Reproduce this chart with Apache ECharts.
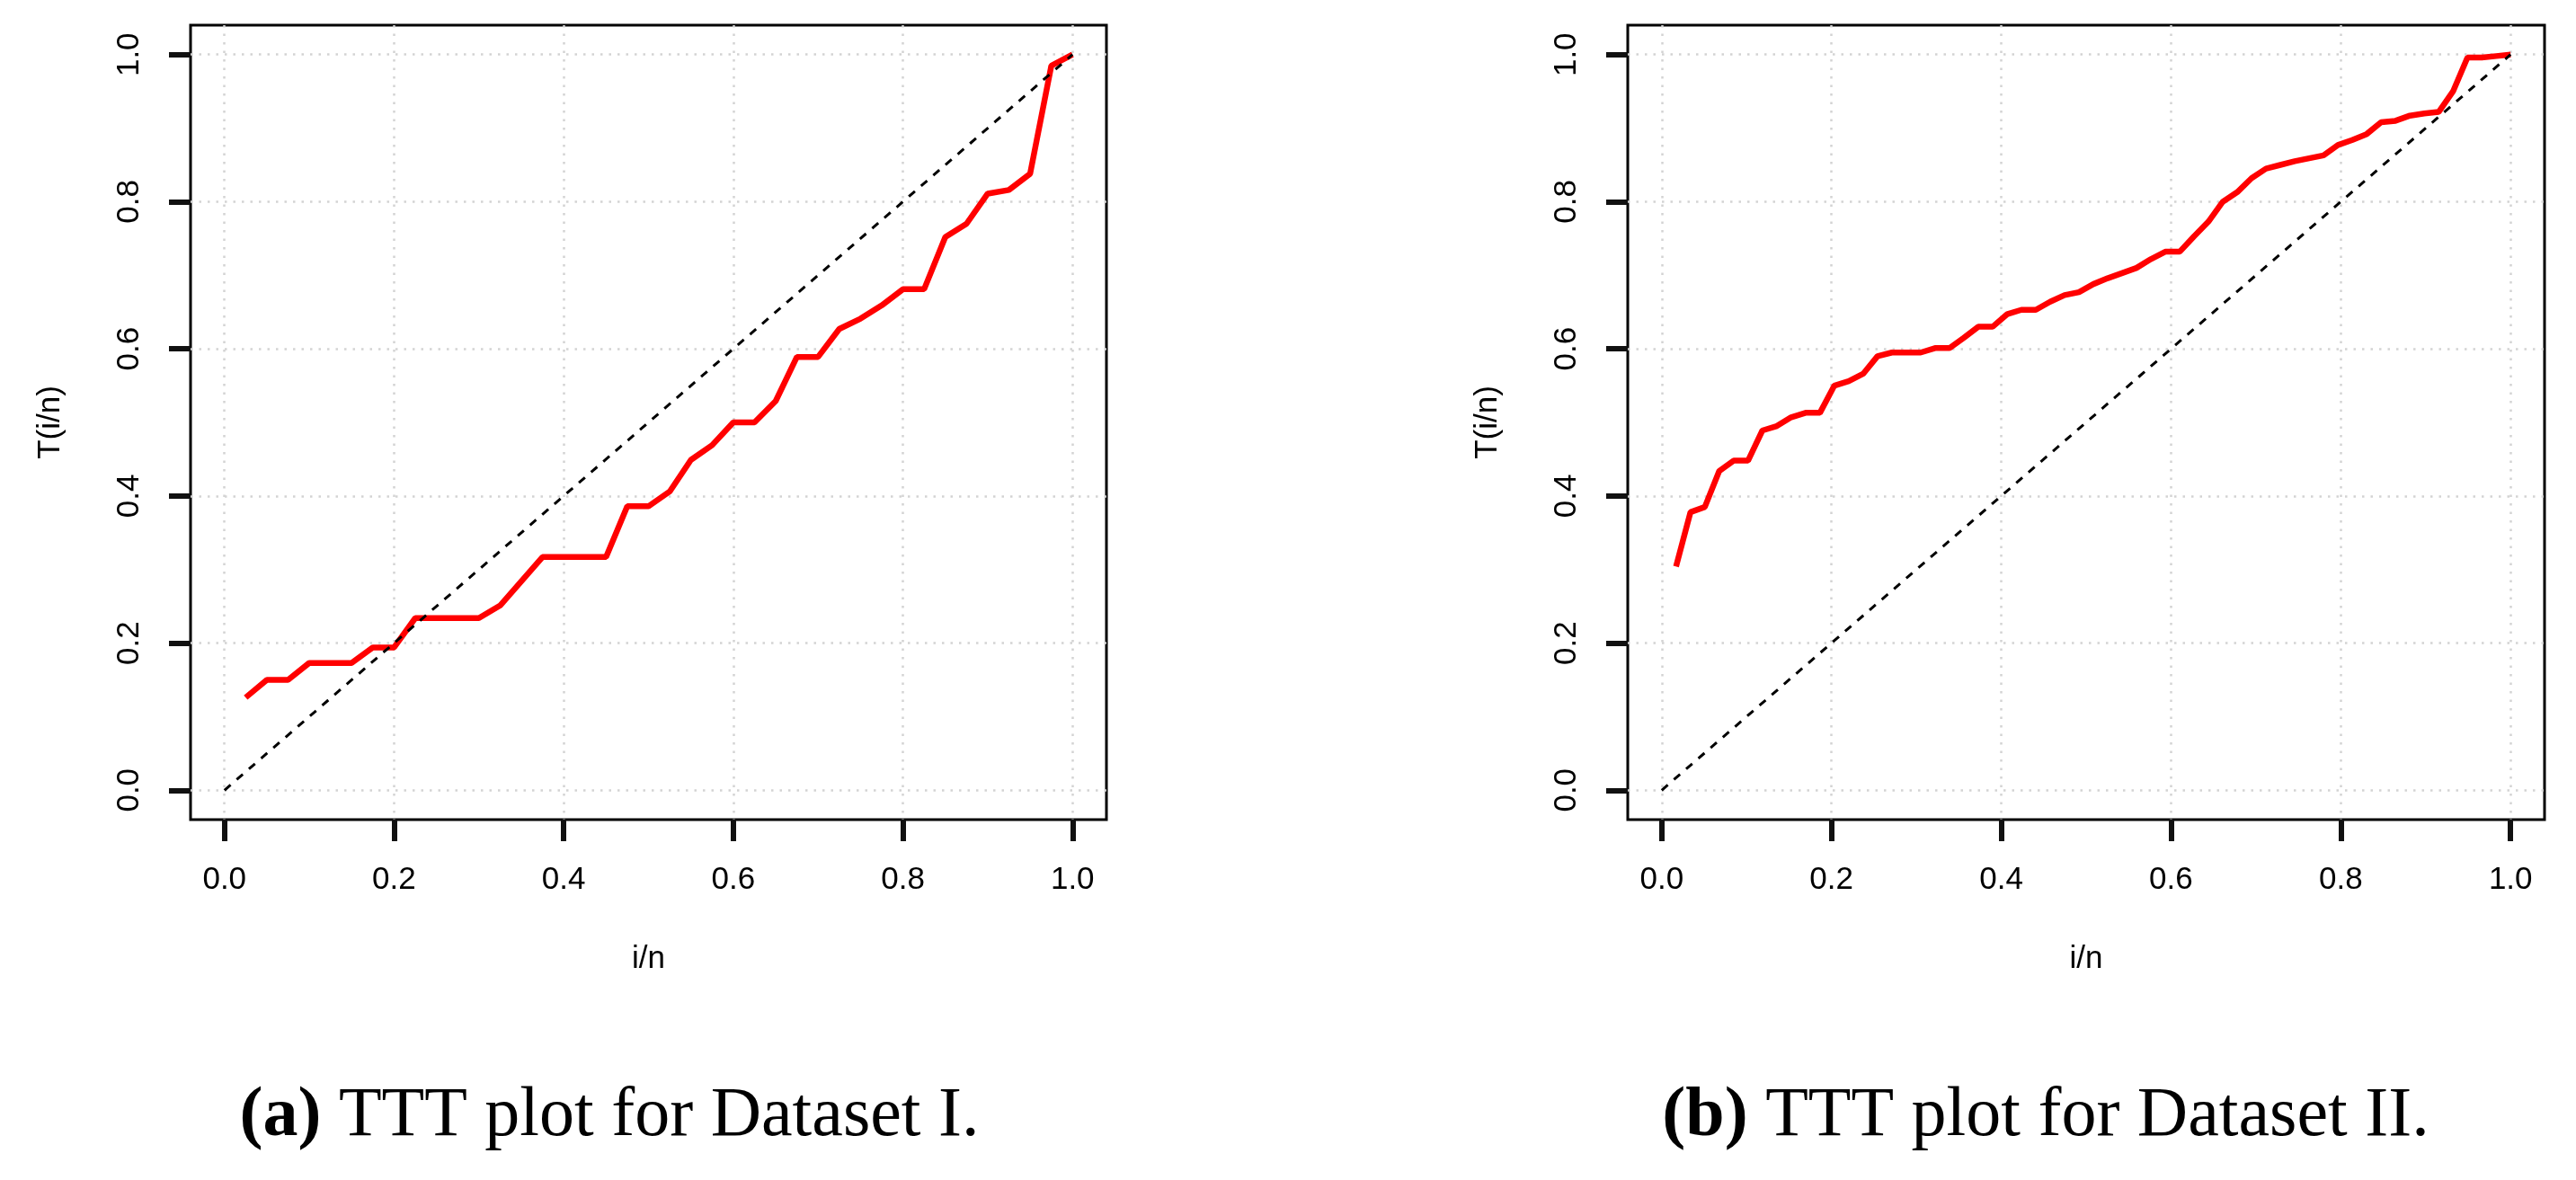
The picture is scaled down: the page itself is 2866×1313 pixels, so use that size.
<!DOCTYPE html>
<html>
<head>
<meta charset="utf-8">
<title>TTT plots</title>
<script src="https://cdn.jsdelivr.net/npm/echarts@6/dist/echarts.min.js"></script>
<style>
  html, body { margin: 0; padding: 0; background: #fff; }
  #main { width: 2866px; height: 1313px; }
</style>
</head>
<body>
<div id="main"></div>
<script>
// 刻度 (tick values, both axes, both panels)
var tickValues = [0, 0.2, 0.4, 0.6, 0.8, 1.0];

// Dataset I : i/n and T(i/n), n = 40
var xDataset1 = [0.025, 0.05, 0.075, 0.1, 0.125, 0.15, 0.175, 0.2, 0.225, 0.25,
                 0.275, 0.3, 0.325, 0.35, 0.375, 0.4, 0.425, 0.45, 0.475, 0.5,
                 0.525, 0.55, 0.575, 0.6, 0.625, 0.65, 0.675, 0.7, 0.725, 0.75,
                 0.775, 0.8, 0.825, 0.85, 0.875, 0.9, 0.925, 0.95, 0.975, 1.0];
var tDataset1 = [0.126, 0.150, 0.150, 0.173, 0.173, 0.173, 0.194, 0.194, 0.234, 0.234,
                 0.234, 0.234, 0.251, 0.284, 0.317, 0.317, 0.317, 0.317, 0.386, 0.386,
                 0.406, 0.449, 0.469, 0.500, 0.500, 0.529, 0.589, 0.589, 0.627, 0.641,
                 0.659, 0.681, 0.681, 0.752, 0.770, 0.811, 0.816, 0.838, 0.985, 1.000];

// Dataset II : i/n and T(i/n), n = 59
var xDataset2 = [0.0169, 0.0339, 0.0508, 0.0678, 0.0847, 0.1017, 0.1186, 0.1356, 0.1525, 0.1695,
                 0.1864, 0.2034, 0.2203, 0.2373, 0.2542, 0.2712, 0.2881, 0.3051, 0.3220, 0.3390,
                 0.3559, 0.3729, 0.3898, 0.4068, 0.4237, 0.4407, 0.4576, 0.4746, 0.4915, 0.5085,
                 0.5254, 0.5424, 0.5593, 0.5763, 0.5932, 0.6102, 0.6271, 0.6441, 0.6610, 0.6780,
                 0.6949, 0.7119, 0.7288, 0.7458, 0.7627, 0.7797, 0.7966, 0.8136, 0.8305, 0.8475,
                 0.8644, 0.8814, 0.8983, 0.9153, 0.9322, 0.9492, 0.9661, 0.9831, 1.0000];
var tDataset2 = [0.304, 0.378, 0.385, 0.434, 0.448, 0.448, 0.489, 0.495, 0.507, 0.513,
                 0.513, 0.550, 0.556, 0.566, 0.590, 0.595, 0.595, 0.595, 0.601, 0.601,
                 0.615, 0.630, 0.630, 0.647, 0.653, 0.653, 0.664, 0.673, 0.677, 0.688,
                 0.696, 0.703, 0.710, 0.722, 0.732, 0.732, 0.753, 0.773, 0.800, 0.813,
                 0.832, 0.845, 0.850, 0.855, 0.859, 0.863, 0.877, 0.884, 0.892, 0.908,
                 0.910, 0.917, 0.920, 0.922, 0.950, 0.996, 0.996, 0.998, 1.000];

// 参考线 y = x
var diagX = [0, 1];
var diagY = [0, 1];

var captions = ['{b|(a)} TTT plot for Dataset I.', '{b|(b)} TTT plot for Dataset II.'];

var sansFont = "'Liberation Sans', Arial, Helvetica, sans-serif";
var serifFont = "'Liberation Serif', 'Times New Roman', serif";

function zip(xs, ys) {
    var out = [];
    for (var i = 0; i < xs.length; i++) {
        out.push([xs[i], ys[i]]);
    }
    return out;
}

function makeAxis(idx, isY) {
    var axis = {
        gridIndex: idx, type: 'value', min: -0.04, max: 1.04,
        axisLine: { show: false, onZero: false },
        axisTick: { show: true, inside: false, length: 24, customValues: tickValues,
            lineStyle: { color: '#111111', width: 6 } },
        axisLabel: { customValues: tickValues, fontSize: 35, fontFamily: sansFont, color: '#000', margin: 50,
            formatter: function(v) { return v.toFixed(1); } },
        splitLine: { show: true, lineStyle: { color: '#d3d3d3', width: 2.5, type: [2.5, 7] } },
        name: isY ? 'T(i/n)' : 'i/n',
        nameLocation: 'middle',
        nameGap: 138,
        nameTextStyle: { fontSize: 35, fontFamily: sansFont, color: '#000' }
    };
    if (isY) {
        axis.axisLabel.rotate = 90;
        axis.nameRotate = 90;
    }
    return axis;
}

var chart = echarts.init(document.getElementById('main'));
chart.setOption({
    animation: false,
    grid: [
        { left: 212, top: 28, width: 1019, height: 884, show: true, borderColor: '#000', borderWidth: 3, backgroundColor: 'transparent' },
        { left: 1811, top: 28, width: 1020, height: 884, show: true, borderColor: '#000', borderWidth: 3, backgroundColor: 'transparent' }
    ],
    xAxis: [makeAxis(0, false), makeAxis(1, false)],
    yAxis: [makeAxis(0, true), makeAxis(1, true)],
    series: [
        { type: 'line', xAxisIndex: 0, yAxisIndex: 0, data: zip(xDataset1, tDataset1), showSymbol: false,
          lineStyle: { color: '#ff0000', width: 6.5 } },
        { type: 'line', xAxisIndex: 0, yAxisIndex: 0, data: zip(diagX, diagY), showSymbol: false,
          lineStyle: { color: '#000', width: 3, type: [9, 9] } },
        { type: 'line', xAxisIndex: 1, yAxisIndex: 1, data: zip(xDataset2, tDataset2), showSymbol: false,
          lineStyle: { color: '#ff0000', width: 6.5 } },
        { type: 'line', xAxisIndex: 1, yAxisIndex: 1, data: zip(diagX, diagY), showSymbol: false,
          lineStyle: { color: '#000', width: 3, type: [9, 9] } }
    ],
    graphic: [
        { type: 'text', x: 678, y: 1243,
          style: { text: captions[0], align: 'center', verticalAlign: 'middle',
                   fontSize: 78, fontFamily: serifFont, fill: '#000',
                   rich: { b: { fontSize: 78, fontFamily: serifFont, fontWeight: 'bold' } } } },
        { type: 'text', x: 2276, y: 1243,
          style: { text: captions[1], align: 'center', verticalAlign: 'middle',
                   fontSize: 78, fontFamily: serifFont, fill: '#000',
                   rich: { b: { fontSize: 78, fontFamily: serifFont, fontWeight: 'bold' } } } }
    ]
});
</script>
</body>
</html>
